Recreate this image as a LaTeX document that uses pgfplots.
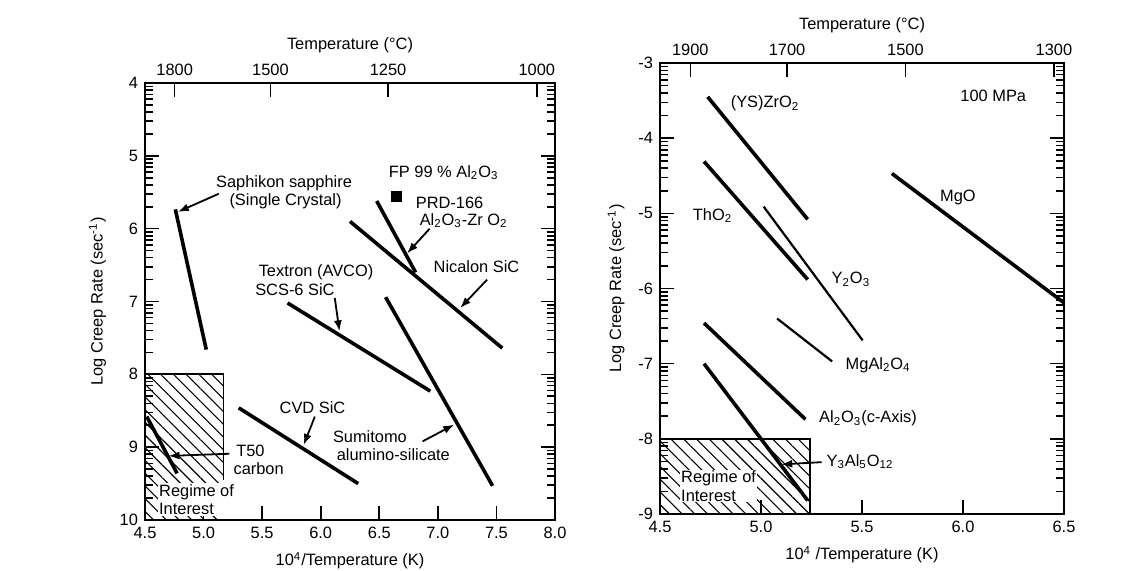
\documentclass[border=0pt]{standalone}
\usepackage{pgfplots}
\pgfplotsset{compat=1.18}
\usepackage{fontspec}
\setmainfont{Liberation Sans}
\usetikzlibrary{arrows.meta,patterns.meta}

\pgfplotsset{
  common/.style={
    scale only axis, anchor=south west,
    axis line style={line width=1pt},
    every tick/.style={black, line width=0.8pt},
    tick align=inside,
    major tick length=7pt, minor tick length=4pt,
    /pgf/number format/assume math mode=true,
    tick label style={font=\fontsize{8.2}{9}\selectfont},
    label style={font=\fontsize{8.2}{9.5}\selectfont},
    clip=false,
  },
  topaxis/.style={
    xtick pos=upper, xticklabel pos=upper, ytick=\empty,
    xlabel style={yshift=-1pt},
  },
}
\newcommand{\an}{\fontsize{8.2}{9.2}\selectfont}
\newcommand{\sub}[1]{\textsubscript{#1}}
\tikzset{lab/.style={font=\an}, arr/.style={-{Latex[length=5.5pt,width=4pt]}, line width=0.9pt}}

\begin{document}
\begin{tikzpicture}
\path[use as bounding box] (0,0) rectangle (569pt,285pt);

% ================= LEFT PLOT =================
\begin{axis}[common,
  at={(72.5pt,25pt)}, width=205pt, height=218.5pt,
  xmin=4.5, xmax=8.0, ymin=4, ymax=10, y dir=reverse,
  xtick={4.5,5.0,5.5,6.0,6.5,7.0,7.5,8.0},
  xticklabel style={/pgf/number format/fixed,/pgf/number format/fixed zerofill,/pgf/number format/precision=1},
  xtick pos=lower, ytick pos=both,
  ytick={4,5,6,7,8,9,10},
  minor ytick={4.046,4.097,4.155,4.222,4.301,4.398,4.523,4.699,
               5.046,5.097,5.155,5.222,5.301,5.398,5.523,5.699,
               6.046,6.097,6.155,6.222,6.301,6.398,6.523,6.699,
               7.046,7.097,7.155,7.222,7.301,7.398,7.523,7.699,
               8.046,8.097,8.155,8.222,8.301,8.398,8.523,8.699,
               9.046,9.097,9.155,9.222,9.301,9.398,9.523,9.699},
  xlabel={10\textsuperscript{4}/Temperature (K)},
  ylabel={Log Creep Rate (sec\textsuperscript{-1})},
]
% regime of interest
\fill[pattern={Lines[angle=-45,distance=4.5pt,line width=0.55pt]}] (axis cs:4.5,8) rectangle (axis cs:5.17,10);
\draw[line width=0.9pt] (axis cs:4.5,8) -- (axis cs:5.17,8) -- (axis cs:5.17,9.45);

\addplot[black, line width=1.8pt] coordinates {(4.759,5.735) (5.023,7.66)};   % Saphikon
\addplot[black, line width=1.8pt] coordinates {(6.478,5.62) (6.81,6.60)};     % PRD-166
\addplot[black, line width=1.8pt] coordinates {(6.25,5.90) (7.55,7.64)};      % Nicalon
\addplot[black, line width=1.8pt] coordinates {(5.717,7.02) (6.935,8.23)};    % Textron
\addplot[black, line width=1.8pt] coordinates {(6.554,6.94) (7.467,9.53)};    % Sumitomo
\addplot[black, line width=1.8pt] coordinates {(5.30,8.46) (6.32,9.50)};      % CVD SiC
\addplot[black, line width=1.8pt] coordinates {(4.515,8.58) (4.774,9.36)};    % T50 carbon
\addplot[black, only marks, mark=square*, mark size=2.6pt] coordinates {(6.645,5.56)}; % FP

\node[lab] at (axis cs:5.687,5.37) {Saphikon sapphire};
\node[lab] at (axis cs:5.70,5.62) {(Single Crystal)};
\draw[arr] (axis cs:5.13,5.52) -- (axis cs:4.78,5.77);
\node[lab] at (axis cs:7.05,5.23) {FP 99 \% Al\sub{2}O\sub{3}};
\node[lab] at (axis cs:7.10,5.64) {PRD-166};
\node[lab] at (axis cs:7.22,5.89) {Al\sub{2}O\sub{3}-Zr O\sub{2}};
\draw[arr] (axis cs:6.93,6.0) -- (axis cs:6.737,6.34);
\node[lab] at (axis cs:7.33,6.52) {Nicalon SiC};
\draw[arr] (axis cs:7.42,6.70) -- (axis cs:7.19,7.09);
\node[lab] at (axis cs:5.96,6.60) {Textron (AVCO)};
\node[lab] at (axis cs:5.78,6.84) {SCS-6 SiC};
\draw[arr] (axis cs:6.12,6.95) -- (axis cs:6.16,7.41);
\node[lab] at (axis cs:5.93,8.46) {CVD SiC};
\draw[arr] (axis cs:5.95,8.58) -- (axis cs:5.854,8.97);
\node[lab] at (axis cs:6.42,8.85) {Sumitomo};
\node[lab] at (axis cs:6.62,9.10) {alumino-silicate};
\draw[arr] (axis cs:6.87,8.92) -- (axis cs:7.14,8.69);
\draw[arr] (axis cs:5.22,9.09) -- (axis cs:4.70,9.12);
\node[lab, fill=white, inner sep=1pt] at (axis cs:5.40,9.05) {T50};
\node[lab, fill=white, inner sep=1pt] at (axis cs:5.47,9.29) {carbon};
\node[lab, fill=white, inner sep=0.5pt, align=left] at (axis cs:4.94,9.72) {Regime of\\Interest};
\end{axis}

\begin{axis}[common, topaxis,
  at={(72.5pt,25pt)}, width=205pt, height=218.5pt,
  xmin=4.5, xmax=8.0, ymin=4, ymax=10, y dir=reverse,
  xtick={4.753,5.571,6.575,7.845},
  xticklabels={1800,1500,1250,1000},
  xlabel={Temperature (\textdegree C)},
]
\end{axis}

% ================= RIGHT PLOT =================
\begin{axis}[common,
  at={(330pt,28pt)}, width=202pt, height=225.5pt,
  xmin=4.5, xmax=6.5, ymin=-9, ymax=-3,
  xtick={4.5,5.0,5.5,6.0,6.5},
  xticklabel style={/pgf/number format/fixed,/pgf/number format/fixed zerofill,/pgf/number format/precision=1},
  xtick pos=lower, ytick pos=both,
  ytick={-9,-8,-7,-6,-5,-4,-3},
  minor ytick={-3.046,-3.097,-3.155,-3.222,-3.301,-3.398,-3.523,-3.699,
               -4.046,-4.097,-4.155,-4.222,-4.301,-4.398,-4.523,-4.699,
               -5.046,-5.097,-5.155,-5.222,-5.301,-5.398,-5.523,-5.699,
               -6.046,-6.097,-6.155,-6.222,-6.301,-6.398,-6.523,-6.699,
               -7.046,-7.097,-7.155,-7.222,-7.301,-7.398,-7.523,-7.699,
               -8.046,-8.097,-8.155,-8.222,-8.301,-8.398,-8.523,-8.699},
  xlabel={10\textsuperscript{4} /Temperature (K)},
  ylabel={Log Creep Rate (sec\textsuperscript{-1})},
]
\fill[pattern={Lines[angle=-45,distance=4.5pt,line width=0.55pt]}] (axis cs:4.5,-8) rectangle (axis cs:5.243,-9);
\draw[line width=0.9pt] (axis cs:4.5,-8) -- (axis cs:5.243,-8) -- (axis cs:5.243,-9);

\addplot[black, line width=1.8pt] coordinates {(4.736,-3.45) (5.231,-5.08)};  % (YS)ZrO2
\addplot[black, line width=1.8pt] coordinates {(4.718,-4.31) (5.231,-5.88)};  % ThO2
\addplot[black, line width=1.1pt] coordinates {(5.013,-4.91) (5.503,-6.69)};  % Y2O3
\addplot[black, line width=1.8pt] coordinates {(5.648,-4.47) (6.50,-6.19)};   % MgO
\addplot[black, line width=1.1pt] coordinates {(5.08,-6.40) (5.352,-6.97)};   % MgAl2O4
\addplot[black, line width=1.8pt] coordinates {(4.718,-6.46) (5.22,-7.74)};   % Al2O3
\addplot[black, line width=1.8pt] coordinates {(4.718,-7.00) (5.231,-8.82)};  % Y3Al5O12

\node[lab] at (axis cs:5.02,-3.54) {(YS)ZrO\sub{2}};
\node[lab] at (axis cs:4.76,-5.03) {ThO\sub{2}};
\node[lab] at (axis cs:5.445,-5.88) {Y\sub{2}O\sub{3}};
\node[lab] at (axis cs:5.975,-4.79) {MgO};
\node[lab] at (axis cs:6.15,-3.44) {100 MPa};
\node[lab] at (axis cs:5.58,-7.02) {MgAl\sub{2}O\sub{4}};
\node[lab] at (axis cs:5.53,-7.73) {Al\sub{2}O\sub{3}(c-Axis)};
\node[lab] at (axis cs:5.49,-8.30) {Y\sub{3}Al\sub{5}O\sub{12}};
\draw[arr] (axis cs:5.30,-8.31) -- (axis cs:5.10,-8.34);
\node[lab, fill=white, inner sep=0.5pt, align=left] at (axis cs:4.79,-8.63) {Regime of\\Interest};
\end{axis}

\begin{axis}[common, topaxis,
  at={(330pt,28pt)}, width=202pt, height=225.5pt,
  xmin=4.5, xmax=6.5, ymin=-9, ymax=-3,
  xtick={4.65,5.129,5.715,6.45},
  xticklabels={1900,1700,1500,1300},
  xlabel={Temperature (\textdegree C)},
]
\end{axis}
\end{tikzpicture}
\end{document}
